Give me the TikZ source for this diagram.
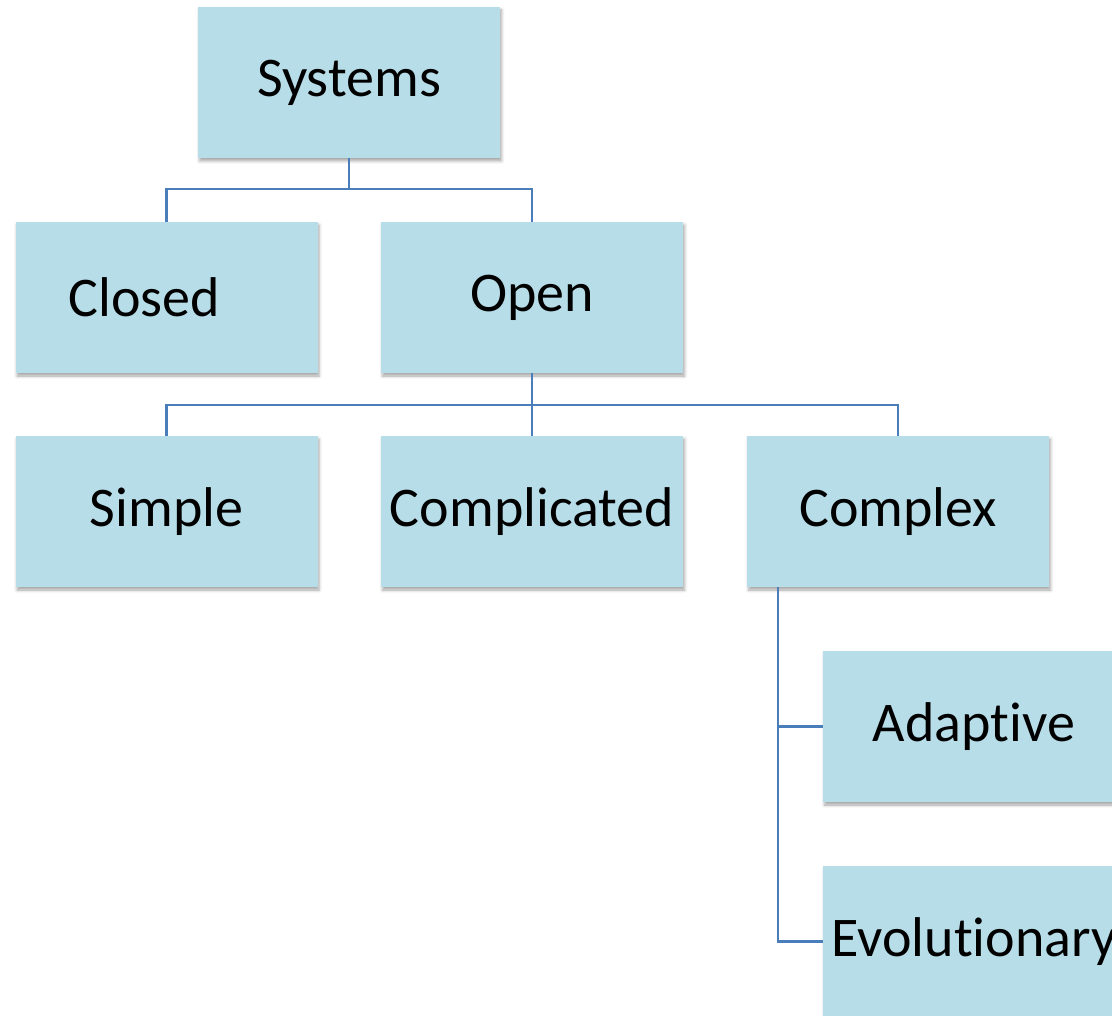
\documentclass[tikz,border=0pt]{standalone}
\usepackage{fontspec}
\setmainfont{Carlito}[Ligatures=NoCommon]
\usetikzlibrary{shadows.blur}
\definecolor{boxfill}{HTML}{B7DDE8}
\definecolor{linkblue}{HTML}{4A7EBB}
\tikzset{
  box/.style={rectangle, fill=boxfill, minimum width=302pt, minimum height=151pt,
    inner sep=0pt, font=\fontsize{56}{62}\selectfont,
    blur shadow={shadow xshift=1.5pt, shadow yshift=-3pt, shadow blur radius=3pt, shadow opacity=35}},
  link/.style={draw=linkblue, line width=2.4pt}
}
\begin{document}
\begin{tikzpicture}[x=1pt, y=-1pt]
  \useasboundingbox (0,0) rectangle (1112,1016);
  \clip (0,0) rectangle (1112,1016);
  % boxes
  \node[box] (sys)      at (349,82.5)    {Systems};
  \node[box] (closed)   at (166.5,297.5) {Closed\kern44pt};
  \node[box] (open)     at (532,297.5)   {Open};
  \node[box] (simple)   at (166.5,511.5) {Simple};
  \node[box] (compd)    at (532,511.5)   {Complicated};
  \node[box] (complex)  at (898,511.5)   {Complex};
  \node[box] (adaptive) at (974,726.5)   {Adaptive};
  \node[box] (evol)     at (974,941.5)   {Evolutionary};
  % tree links
  \draw[link] (sys.south) -- ++(0,31) -| (closed.north);
  \draw[link] (sys.south) -- ++(0,31) -| (open.north);
  \draw[link] (open.south) -- ++(0,32) -| (simple.north);
  \draw[link] (open.south) -- (compd.north);
  \draw[link] (open.south) -- ++(0,32) -| (complex.north);
  \coordinate (cx) at ([xshift=31pt]complex.south west);
  \draw[link] (cx) |- (adaptive.west);
  \draw[link] (cx) |- (evol.west);
\end{tikzpicture}
\end{document}
